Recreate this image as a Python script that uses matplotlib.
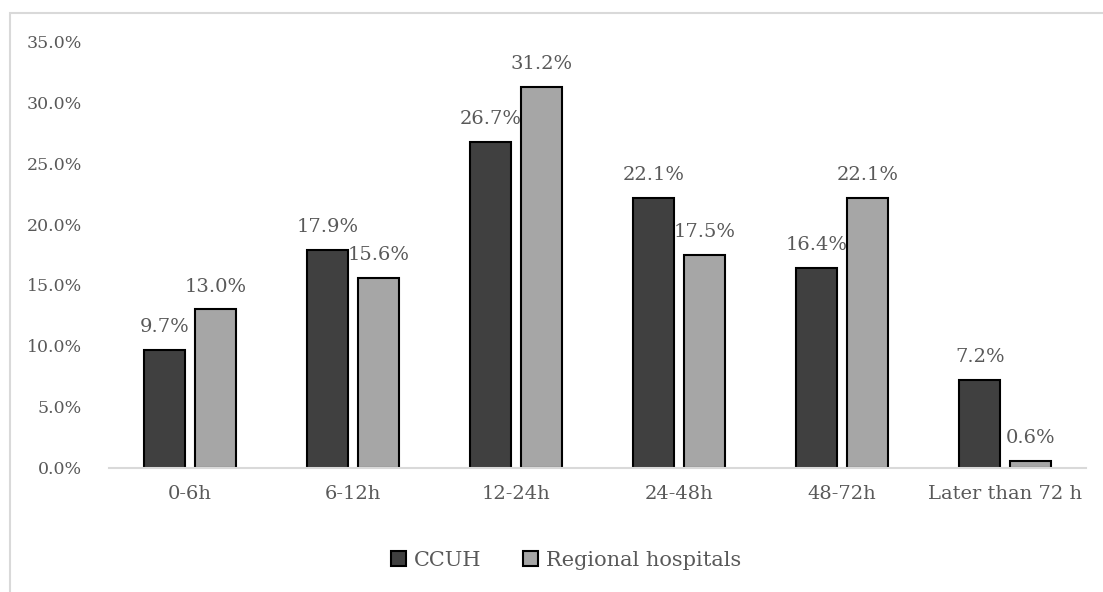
import numpy as np
import matplotlib.pyplot as plt
from matplotlib.patches import Rectangle

# Data
categories = ['0-6h', '6-12h', '12-24h', '24-48h', '48-72h', 'Later than 72 h']
ccuh = [9.7, 17.9, 26.7, 22.1, 16.4, 7.2]
regional = [13.0, 15.6, 31.2, 17.5, 22.1, 0.6]
yticks = [0, 5, 10, 15, 20, 25, 30, 35]

text_color = '#595959'
plt.rcParams['font.family'] = ['DejaVu Serif']

fig = plt.figure(figsize=(11.03, 5.92), dpi=100)
# light grey frame around the chart area (runs off the right/bottom edge)
fig.patches.append(Rectangle((10 / 1103, -0.05), 1.2, 1 - 13 / 592 + 0.05,
                             transform=fig.transFigure, fill=False,
                             edgecolor='#d9d9d9', linewidth=1.5))

ax = fig.add_axes([0.0984, 0.2095, 0.8866, 0.7212])

x = np.arange(len(categories))
w = 0.25
off = 0.155
b1 = ax.bar(x - off, ccuh, w, color='#404040', edgecolor='black', linewidth=1.5, label='CCUH')
b2 = ax.bar(x + off, regional, w, color='#a6a6a6', edgecolor='black', linewidth=1.5,
            label='Regional hospitals')

for bars, vals in ((b1, ccuh), (b2, regional)):
    for rect, v in zip(bars, vals):
        ax.annotate('%.1f%%' % v, (rect.get_x() + rect.get_width() / 2, v),
                    xytext=(0, 10), textcoords='offset points', ha='center', va='bottom',
                    fontsize=14, color=text_color)

ax.set_xlim(-0.5, len(categories) - 0.5)
ax.set_ylim(0, 35)
ax.set_yticks(yticks)
ax.set_yticklabels(['%.1f%%' % t for t in yticks])
ax.set_xticks(x)
ax.set_xticklabels(categories)
ax.tick_params(axis='y', length=0, pad=19, labelsize=12.5, labelcolor=text_color)
ax.tick_params(axis='x', length=0, pad=12, labelsize=14, labelcolor=text_color)

for s in ('top', 'right', 'left'):
    ax.spines[s].set_visible(False)
ax.spines['bottom'].set_color('#d9d9d9')
ax.spines['bottom'].set_linewidth(1.5)

leg = fig.legend(loc='center', bbox_to_anchor=(0.513, 1 - 560 / 592), ncol=2, frameon=False,
                 fontsize=15, handlelength=0.75, handleheight=0.75, handletextpad=0.35,
                 columnspacing=2.0, labelcolor=text_color)

fig.savefig('out.png', dpi=100)
